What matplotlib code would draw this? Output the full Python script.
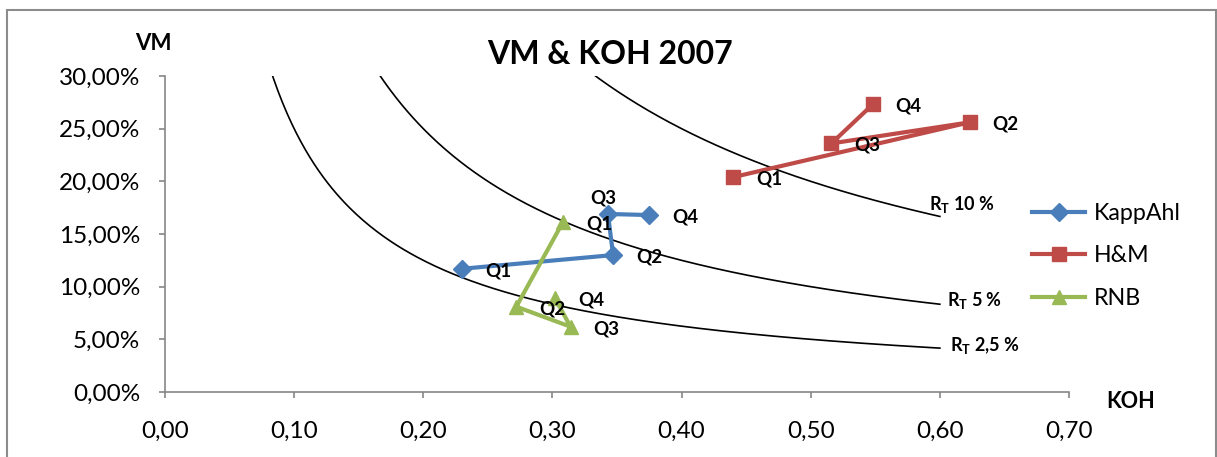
import numpy as np
import matplotlib
matplotlib.use("Agg")
import matplotlib.pyplot as plt
from matplotlib.ticker import FuncFormatter, MultipleLocator
from matplotlib.patches import Rectangle

# ---------------- data ----------------
quarters = ["Q1", "Q2", "Q3", "Q4"]
kappahl_koh = [0.230, 0.347, 0.343, 0.375]
kappahl_vm = [0.117, 0.130, 0.169, 0.168]
hm_koh = [0.440, 0.623, 0.516, 0.548]
hm_vm = [0.204, 0.256, 0.236, 0.273]
rnb_koh = [0.308, 0.272, 0.314, 0.302]
rnb_vm = [0.161, 0.081, 0.062, 0.089]
rt_levels = [0.10, 0.05, 0.025]
rt_labels = ["10 %", "5 %", "2,5 %"]
koh_end = 0.60

# ---------------- style ----------------
FONT = ["Lato", "DejaVu Sans"]
plt.rcParams["font.family"] = FONT
plt.rcParams["mathtext.fontset"] = "custom"
plt.rcParams["mathtext.rm"] = "Lato"
plt.rcParams["mathtext.bf"] = "Lato:bold"

W, H = 1217, 457
fig = plt.figure(figsize=(W / 100, H / 100), dpi=100)
ax = fig.add_axes([165 / W, 1 - 392 / H, (1069 - 165) / W, (392 - 76) / H])

# outer chart border
fig.patches.append(Rectangle((7 / W, -0.05), (1216 - 7) / W, 1 - 10 / H + 0.05,
                             transform=fig.transFigure, fill=False,
                             edgecolor="#8c8c8c", lw=1.5, zorder=0))

# iso-return curves VM = RT / KOH
for rt in rt_levels:
    xs = np.linspace(rt / 0.31, koh_end, 300)
    ax.plot(xs, rt / xs, color="black", lw=1.2, zorder=2)

for rt, lab, dx, dy in zip(rt_levels, rt_labels, [-11, 7, 10], [-12, -4, -3]):
    ax.annotate(r"$\mathbf{R_T}$ " + lab, (koh_end, rt / koh_end),
                xytext=(dx, -dy), textcoords="offset pixels",
                ha="left", va="center", fontsize=13, fontweight="bold")

series = [
    ("KappAhl", kappahl_koh, kappahl_vm, "#4A7EBB", "D", 9.5),
    ("H&M", hm_koh, hm_vm, "#BE4B48", "s", 9.5),
    ("RNB", rnb_koh, rnb_vm, "#98B954", "^", 10.5),
]
for name, xs, ys, col, mk, ms in series:
    ax.plot(xs, ys, color=col, lw=3, marker=mk, markersize=ms,
            markeredgecolor=col, label=name, zorder=3)

# data labels
label_offsets = {
    ("KappAhl", 2): (-5, 16, "center"),
}
for name, xs, ys, col, mk, ms in series:
    for i, (x, y) in enumerate(zip(xs, ys)):
        dx, dy, ha = label_offsets.get((name, i), (23, -2, "left"))
        ax.annotate(quarters[i], (x, y), xytext=(dx, dy), textcoords="offset pixels",
                    ha=ha, va="center", fontsize=13.5, fontweight="bold", zorder=4)

ax.set_xlim(0, 0.70)
ax.set_ylim(0, 0.30)
ax.xaxis.set_major_locator(MultipleLocator(0.10))
ax.yaxis.set_major_locator(MultipleLocator(0.05))
ax.xaxis.set_major_formatter(FuncFormatter(lambda v, p: f"{v:.2f}".replace(".", ",")))
ax.yaxis.set_major_formatter(FuncFormatter(lambda v, p: f"{v * 100:.2f}%".replace(".", ",")))
for s in ["top", "right"]:
    ax.spines[s].set_visible(False)
for s in ["left", "bottom"]:
    ax.spines[s].set_color("#868686")
    ax.spines[s].set_linewidth(1.2)
ax.tick_params(axis="both", direction="out", length=4.5, width=1.2, color="#868686",
               labelsize=17.5, labelcolor="black")
ax.tick_params(axis="x", pad=16.5)
ax.tick_params(axis="y", pad=13.5)

fig.text(610 / W, 1 - 55 / H, "VM & KOH 2007", ha="center", va="center",
         fontsize=23, fontweight="bold")
fig.text(172 / W, 1 - 43 / H, "VM", ha="right", va="center", fontsize=16, fontweight="bold")
fig.text(1131 / W, 1 - 402 / H, "KOH", ha="center", va="center", fontsize=15.5, fontweight="bold")

leg = ax.legend(loc="center left", bbox_to_anchor=(1032 / W, 1 - 256 / H),
                bbox_transform=fig.transFigure, frameon=False, fontsize=16.7,
                handlelength=2.3, handletextpad=0.35, labelspacing=0.92,
                borderpad=0, borderaxespad=0)

fig.savefig("out.png", dpi=100)
